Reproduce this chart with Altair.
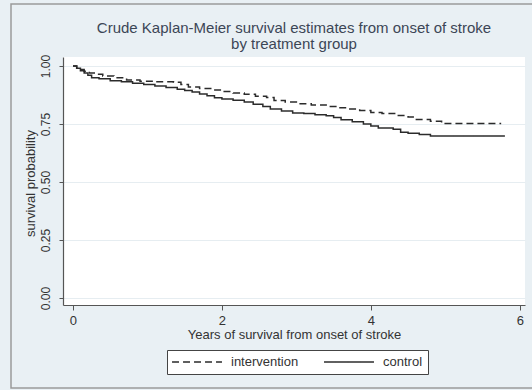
import altair as alt
import pandas as pd

# Kaplan-Meier step estimates (years since stroke onset, survival probability)
control_t = [0, 0.05, 0.1, 0.15, 0.2, 0.25, 0.35, 0.5, 0.65, 0.8, 0.95, 1.1, 1.25,
             1.4, 1.5, 1.6, 1.7, 1.8, 1.9, 2.0, 2.15, 2.3, 2.42, 2.55, 2.65, 2.8,
             2.95, 3.1, 3.25, 3.4, 3.5, 3.6, 3.75, 3.9, 4.0, 4.1, 4.3, 4.4, 4.5,
             4.65, 4.8, 5.8]
control_s = [1.0, 0.99, 0.98, 0.97, 0.96, 0.95, 0.945, 0.937, 0.932, 0.926, 0.92,
             0.914, 0.908, 0.90, 0.895, 0.888, 0.88, 0.872, 0.863, 0.858, 0.853,
             0.845, 0.835, 0.826, 0.815, 0.806, 0.798, 0.795, 0.79, 0.786, 0.778,
             0.768, 0.76, 0.75, 0.742, 0.733, 0.728, 0.715, 0.71, 0.705, 0.698,
             0.698]

intervention_t = [0, 0.05, 0.1, 0.15, 0.22, 0.3, 0.4, 0.55, 0.72, 0.9, 1.1, 1.35,
                  1.45, 1.55, 1.7, 1.85, 2.0, 2.15, 2.3, 2.45, 2.6, 2.7, 2.85, 3.0,
                  3.2, 3.4, 3.55, 3.7, 3.85, 4.0, 4.15, 4.35, 4.5, 4.6, 4.8, 4.95,
                  5.75]
intervention_s = [1.0, 0.99, 0.985, 0.978, 0.97, 0.965, 0.957, 0.95, 0.94, 0.935,
                  0.932, 0.93, 0.92, 0.91, 0.903, 0.897, 0.89, 0.884, 0.878, 0.87,
                  0.864, 0.852, 0.845, 0.838, 0.832, 0.826, 0.82, 0.815, 0.808, 0.8,
                  0.795, 0.787, 0.78, 0.77, 0.762, 0.752, 0.752]

groups = ["intervention", "control"]
x_ticks = [0, 2, 4, 6]
y_ticks = [0, 0.25, 0.5, 0.75, 1.0]
title_lines = ["Crude Kaplan-Meier survival estimates from onset of stroke",
               "by treatment group"]

rows = []
for g, ts, ss in [("intervention", intervention_t, intervention_s),
                  ("control", control_t, control_s)]:
    for t, s in zip(ts, ss):
        rows.append({"years": t, "survival": s, "group": g})
df = pd.DataFrame(rows)

FONT = "Liberation Sans"
INK = "#333333"
TITLE_INK = "#3c4656"

curves = alt.Chart(df).mark_line(
    interpolate="step-after", strokeWidth=1.5, color="#2b2b2b"
).encode(
    x=alt.X("years:Q",
            scale=alt.Scale(domain=[-0.134, 6.07], nice=False, zero=False),
            axis=alt.Axis(values=x_ticks, format="d", grid=False,
                          title="Years of survival from onset of stroke",
                          tickSize=5, labelPadding=4, labelFontSize=13,
                          titleY=23, titleBaseline="top")),
    y=alt.Y("survival:Q",
            scale=alt.Scale(domain=[-0.03, 1.039], nice=False, zero=False),
            axis=alt.Axis(values=y_ticks, format=".2f", grid=True,
                          gridColor="#e6edf1", gridWidth=1,
                          labelAngle=270, labelAlign="center",
                          labelBaseline="bottom", labelPadding=7, tickSize=4,
                          title="survival probability",
                          titleX=-26, titleY=126, titleAngle=270,
                          titleBaseline="bottom", titleAlign="center")),
    strokeDash=alt.StrokeDash(
        "group:N",
        scale=alt.Scale(domain=groups, range=[[7, 4], [1, 0]]),
        legend=alt.Legend(
            title=None, orient="none", direction="horizontal",
            legendX=104, legendY=293,
            symbolType="M-4,0L4,0", symbolSize=156, symbolStrokeWidth=1.3,
            symbolStrokeColor="#2b2b2b", symbolFillColor="transparent",
            symbolOffset=18, labelOffset=27,
            labelFontSize=13, labelFont=FONT, labelColor=INK,
            columnPadding=22, padding=5,
            strokeColor="#444444", fillColor="#ffffff", cornerRadius=0),
    ),
    order="years:Q",
)

# Two-line heading, centred over the plotting area
heading_top = alt.Chart(pd.DataFrame({"line": [title_lines[0]]})).mark_text(
    font=FONT, fontSize=15, color=TITLE_INK, align="center", baseline="middle"
).encode(x=alt.value(231), y=alt.value(-29), text="line:N")
heading_bottom = alt.Chart(pd.DataFrame({"line": [title_lines[1]]})).mark_text(
    font=FONT, fontSize=15, color=TITLE_INK, align="center", baseline="middle"
).encode(x=alt.value(231), y=alt.value(-13), text="line:N")

# Outer graph-region border
frame = alt.Chart(pd.DataFrame({"k": [0]})).mark_rect(
    fill=None, stroke="#9a9a9a", strokeWidth=1.5
).encode(
    x=alt.value(-52), x2=alt.value(490), y=alt.value(-53), y2=alt.value(331)
)

chart = alt.layer(curves, heading_top, heading_bottom, frame).properties(
    width=462, height=248,
    autosize=alt.AutoSizeParams(type="none"),
    padding={"left": 63, "top": 57, "right": 7, "bottom": 85},
    background="#e9f0f4",
).configure_view(
    fill="#ffffff", stroke=None
).configure_axis(
    labelFont=FONT, titleFont=FONT, labelFontSize=12, titleFontSize=13,
    labelColor=INK, titleColor=INK, titleFontWeight="normal",
    domainColor="#555555", tickColor="#555555", domainWidth=1.2,
)

chart.save("out.html", embed_options={"renderer": "svg", "actions": False})
